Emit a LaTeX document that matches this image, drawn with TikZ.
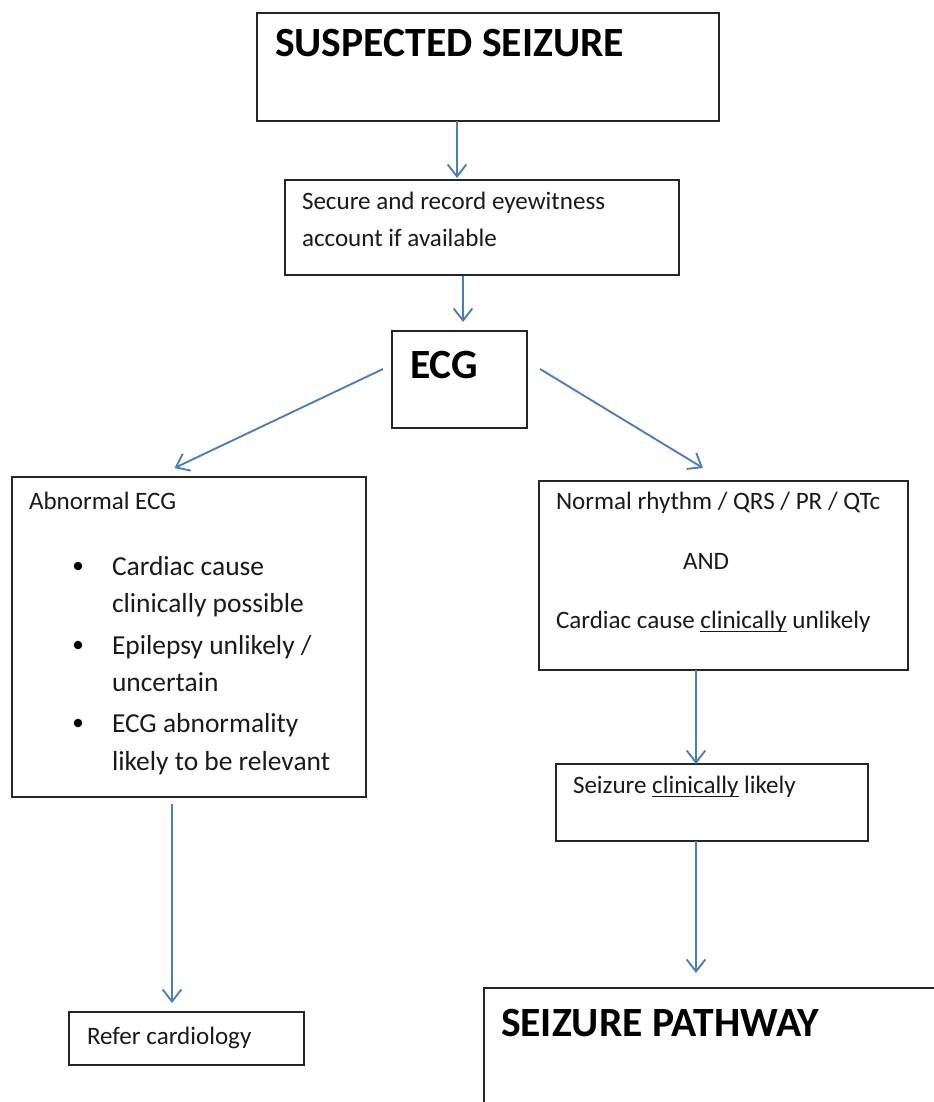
\documentclass[tikz,border=0pt]{standalone}
\usepackage{fontspec}
\setmainfont{Carlito}
\usetikzlibrary{arrows.meta,calc,fit}
\definecolor{arrowblue}{HTML}{4A7EBB}
\definecolor{inkc}{HTML}{1A1A1A}
\newcommand\ulc[1]{\setbox0\hbox{#1}\rlap{\rule[-3.2pt]{\wd0}{0.8pt}}\box0\relax}
\begin{document}
\begin{tikzpicture}[x=0.75pt,y=-0.75pt,
  box/.style={draw=black!85,line width=1.5pt,inner sep=0pt,outer sep=0pt,fill=none},
  txt/.style={anchor=base west,inner sep=0pt,outer sep=0pt,text=inkc,font=\fontsize{18.8}{22}\selectfont},
  btxt/.style={anchor=base west,inner sep=0pt,outer sep=0pt,text=inkc,font=\fontsize{20.6}{24}\selectfont},
  big/.style={anchor=base west,inner sep=0pt,outer sep=0pt,text=black,font=\fontsize{31.2}{36}\selectfont\bfseries},
  bul/.style={circle,fill=black,inner sep=0pt,minimum size=6.4pt},
  arr/.style={draw=arrowblue,line width=1.4pt,-{Straight Barb[length=9pt,width=14pt,line width=1.4pt]}}]
\useasboundingbox (0,0) rectangle (934,1102);
\fill[white] (0,0) rectangle (934,1102);
\clip (0,0) rectangle (934,1102);
% boxes
\node[box,fit={(257,13) (719,121)}] (sus) {};
\node[box,fit={(285,180) (679,275)}] (sec) {};
\node[box,fit={(392,331) (527,428)}] (ecg) {};
\node[box,fit={(12,477) (366,797)}] (abn) {};
\node[box,fit={(539,481) (908,670)}] (nor) {};
\node[box,fit={(556,764) (868,841)}] (scl) {};
\node[box,fit={(69,1012) (304,1065)}] (ref) {};
\node[box,fit={(484,988) (980,1140)}] (pth) {};
% texts
\node[big] (t-sus) at (275,57) {SUSPECTED SEIZURE};
\node[txt] (t-sec1) at (302,209) {Secure and record eyewitness};
\node[txt] (t-sec2) at (302,246) {account if available};
\node[big] (t-ecg) at (410,378) {ECG};
\node[txt] (t-abn) at (29,509) {Abnormal ECG};
\node[bul] (b1) at (78,566) {};
\node[btxt] (t-b1a) at (112,575) {Cardiac cause};
\node[btxt] (t-b1b) at (112,612) {clinically possible};
\node[bul] (b2) at (78,645) {};
\node[btxt] (t-b2a) at (112,654) {Epilepsy unlikely /};
\node[btxt] (t-b2b) at (112,691) {uncertain};
\node[bul] (b3) at (78,723) {};
\node[btxt] (t-b3a) at (112,732) {ECG abnormality};
\node[btxt] (t-b3b) at (112,770) {likely to be relevant};
\node[txt] (t-nor1) at (556,509) {Normal rhythm / QRS / PR / QTc};
\node[txt] (t-nor2) at (683,569) {AND};
\node[txt] (t-nor3) at (556,628) {Cardiac cause \ulc{clinically} unlikely};
\node[txt] (t-scl) at (573,793) {Seizure \ulc{clinically} likely};
\node[txt] (t-ref) at (87,1044) {Refer cardiology};
\node[big] (t-pth) at (501,1036) {SEIZURE PATHWAY};
% connectors
\draw[arr] ($(sus.south)+(-31,0)$) -- ($(sec.north)+(-25,-2)$);
\draw[arr] ($(sec.south)+(-19,1)$) -- ($(ecg.north)+(3.5,-9)$);
\draw[arr] ($(ecg.west)+(-9,-10.5)$) -- ($(abn.north)+(-14.5,-9)$);
\draw[arr] ($(ecg.east)+(13,-10.5)$) -- ($(nor.north)+(-20.5,-13)$);
\draw[arr] ($(nor.south)+(-27.5,0)$) -- ($(scl.north)+(-16,0)$);
\draw[arr] ($(scl.south)+(-16,0)$) -- ($(pth.north west)+(212,-15)$);
\draw[arr] ($(abn.south)+(-17,7)$) -- ($(ref.north)+(-14.5,-9)$);
\end{tikzpicture}
\end{document}
